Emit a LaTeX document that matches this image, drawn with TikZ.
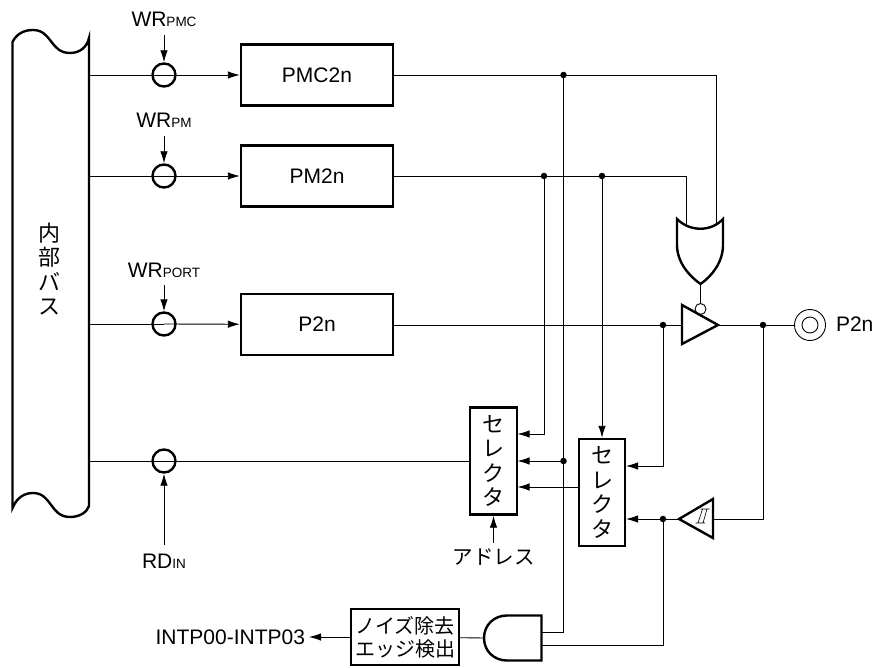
\documentclass[tikz,border=0pt]{standalone}
\usepackage{fontspec}
\setmainfont{Liberation Sans}
\newfontfamily\jpfont{Noto Sans CJK JP}
\usetikzlibrary{arrows.meta}
\newcommand{\lblfont}{\fontsize{21}{24}\selectfont}
\newcommand{\jplbl}{\jpfont\fontsize{22}{24.5}\selectfont}
\newcommand{\subs}[1]{{\fontsize{13.5}{14}\selectfont #1}}
\tikzset{
  thin line/.style={line width=0.9pt},
  heavy/.style={line width=2.4pt},
  sig/.style={thin line,-{Latex[length=12pt,width=7.5pt]}},
  regbox/.style={rectangle,draw,heavy,minimum width=152pt,minimum height=61pt,inner sep=0pt,font=\lblfont},
  selbox/.style={rectangle,draw,heavy,minimum width=46.5pt,minimum height=107pt,inner sep=0pt,align=center,font=\jplbl},
  gatecircle/.style={circle,draw,heavy,minimum size=23pt,inner sep=0pt},
  jdot/.style={circle,fill,minimum size=6.5pt,inner sep=0pt},
  lbl/.style={inner sep=0pt,outer sep=0pt,font=\lblfont},
  jplabel/.style={inner sep=0pt,outer sep=0pt,align=center,font=\jplbl}
}
\begin{document}
\begin{tikzpicture}[x=1pt,y=-1pt]
\useasboundingbox (0,0) rectangle (877,668);

% bus
\node[jplabel,minimum width=77pt,minimum height=400pt] (bus) at (49.5,269) {内\\部\\バ\\ス};
\draw[heavy] (12.5,42) .. controls (17,33) and (25,30) .. (33,30)
  .. controls (52,30) and (50,53) .. (70,53)
  .. controls (80,53) and (87,47) .. (89,38) -- (89,506)
  .. controls (87,512) and (80,517) .. (70,517)
  .. controls (50,517) and (52,493) .. (33,493)
  .. controls (25,493) and (17,497) .. (12.5,508) -- cycle;

% strobes
\node[gatecircle] (c1) at (164,75) {};
\node[gatecircle] (c2) at (164,176) {};
\node[gatecircle] (c3) at (164,324) {};
\node[gatecircle] (c4) at (164,461) {};
\node[lbl] (wrpmc) at (164,19) {WR\subs{PMC}};
\node[lbl] (wrpm) at (164,120) {WR\subs{PM}};
\node[lbl] (wrport) at (164,270) {WR\subs{PORT}};
\node[lbl] (rdin) at (164,561) {RD\subs{IN}};
\coordinate (wa) at (164,35);
\coordinate (wb) at (164,136);
\coordinate (wc) at (164,285);
\coordinate (wd) at (164,545);

% registers
\node[regbox] (pmc) at (317,75) {PMC2n};
\node[regbox] (pm) at (317,176) {PM2n};
\node[regbox] (port) at (317,324.5) {P2n};

% selectors
\node[selbox] (selA) at (493.5,461) {セ\\レ\\ク\\タ};
\node[selbox] (selB) at (602,492.5) {セ\\レ\\ク\\タ};
\node[jplabel,font=\jpfont\fontsize{20.5}{24}\selectfont] (addr) at (493.5,557) {アドレス};
\coordinate (addrup) at (493.5,543);
\coordinate (selAa) at (517.5,434);
\coordinate (selAb) at (517.5,461);
\coordinate (selAc) at (517.5,487);
\coordinate (selBout) at (578,487);
\coordinate (selBa) at (626,466);
\coordinate (selBb) at (626,519);

% noise filter
\node[rectangle,draw,heavy,minimum width=108pt,minimum height=56pt,inner sep=0pt,align=center,font=\jpfont\fontsize{20}{23}\selectfont] (noise) at (405,637) {ノイズ除去\\エッジ検出};
\node[lbl,anchor=east] (intp) at (305,637) {INTP00-INTP03};
\coordinate (intpend) at (309,637);

% junctions
\node[jdot] (d1) at (563.5,75) {};
\node[jdot] (d2) at (544,176) {};
\node[jdot] (d3) at (602,176) {};
\node[jdot] (d4) at (663,325) {};
\node[jdot] (d5) at (763,325) {};
\node[jdot] (d6) at (563.5,461) {};
\node[jdot] (d7) at (663,519) {};

% gate pins
\coordinate (orL) at (686,226);
\coordinate (orR) at (716,226);
\coordinate (orOut) at (700.5,284);
\coordinate (bufIn) at (682,325);
\coordinate (bufOut) at (718,325);
\coordinate (stIn) at (679,519);
\coordinate (stOut) at (713,519);
\coordinate (andA) at (541.5,632);
\coordinate (andB) at (541.5,645);
\coordinate (andOut) at (484,638);
\node[circle,draw,thin line,minimum size=11pt,inner sep=0pt] (bub) at (700.5,309) {};
\node[circle,draw,thin line,minimum size=31pt,inner sep=0pt] (padO) at (810,325) {};
\node[circle,draw,thin line,minimum size=16pt,inner sep=0pt] (padI) at (810,325) {};
\node[lbl,anchor=west] (padlbl) at (836,324) {P2n};

% write paths
\draw[thin line] (bus.east |- c1)--(c1.center);
\draw[thin line] (bus.east |- c2)--(c2.center);
\draw[thin line] (bus.east |- c3)--(c3.center);
\draw[thin line] (bus.east |- c4)--(c4.center);
\draw[sig] (c1.center)--(pmc);
\draw[sig] (c2.center)--(pm);
\draw[sig] (c3.center)--(port);
\draw[thin line] (c4.center)--(selA);
\draw[sig] (wa)--(c1);
\draw[sig] (wb)--(c2);
\draw[sig] (wc)--(c3);
\draw[sig] (wd)--(c4);

\draw[thin line] (pmc.east)-|(orR);
\draw[thin line] (pm.east)-|(orL);
\draw[thin line] (port.east |- bufIn)--(bufIn);
\draw[thin line] (bufOut)--(padO);
\draw[thin line] (orOut)--(bub);

% selector paths
\draw[sig] (d2.center)|-(selAa);
\draw[sig] (d3.center)--(selB);
\draw[sig] (d6.center)--(selAb);
\draw[sig] (selBout)--(selAc);
\draw[sig] (d4.center)|-(selBa);
\draw[sig] (stIn)--(selBb);
\draw[sig] (addrup)--(selA);
\draw[thin line] (d5.center)|-(stOut);

% interrupt path
\draw[thin line] (d1.center)|-(andA);
\draw[thin line] (d7.center)|-(andB);
\draw[thin line] (andOut)--(noise);
\draw[sig] (noise)--(intpend);

% gates
\draw[heavy] (677,219) .. controls (690,232) and (711,232) .. (723,219) -- (723,245)
  .. controls (723,262) and (712,276) .. (700.5,284)
  .. controls (689,276) and (677,262) .. (677,245) -- cycle;
\draw[heavy,line join=miter] (bufIn |- 0,305) -- (bufOut) -- (bufIn |- 0,344) -- cycle;
\draw[heavy] (stIn) -- (stOut |- 0,499) -- (stOut |- 0,538) -- cycle;
\draw[heavy] (andA |- 0,615.5) -- (507,615.5) .. controls (494,615.5) and (484,625) .. (andOut)
  .. controls (484,651) and (494,660.5) .. (507,660.5) -- (andA |- 0,660.5) -- cycle;
% hysteresis mark
\draw[line width=0.6pt] (700.5,509)--(709.5,509) (695.5,523)--(705,523) (698,523)--(702.5,509) (703,523)--(707,509);
\end{tikzpicture}
\end{document}
